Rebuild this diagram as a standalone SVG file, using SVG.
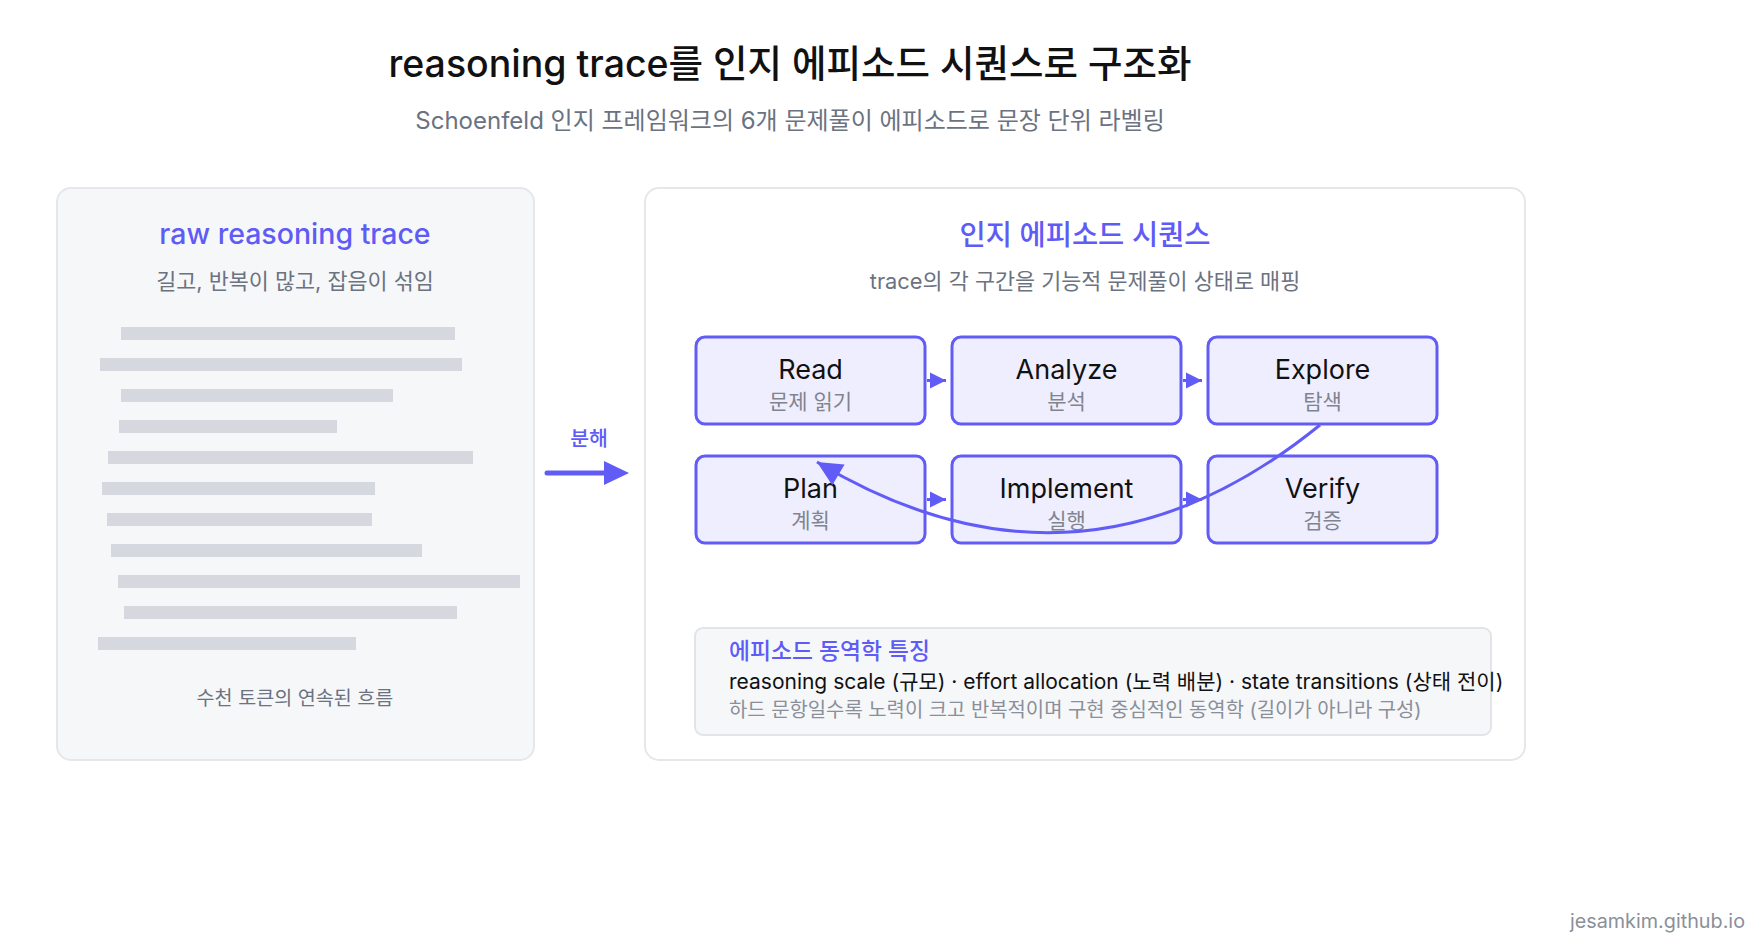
<svg xmlns="http://www.w3.org/2000/svg" width="1762" height="948" viewBox="0 0 1762 948">
<style>
text{font-family:Inter,"Noto Sans CJK KR",sans-serif}
.title{font-size:37.5px;font-weight:500;fill:#111}
.sub{font-size:24px;fill:#6b7280}
.ptitle{font-size:28.5px;font-weight:500;fill:#5f5bf7}
.psub{font-size:21.8px;fill:#6b7280}
.bar{fill:#d5d8de}
.node rect{fill:#efeeff;stroke:#625cf6;stroke-width:3}
.nl{font-size:27px;font-weight:400;fill:#111;text-anchor:middle}
.ns{font-size:21px;fill:#80848d;text-anchor:middle}
.conn{stroke:#625cf6;stroke-width:3;fill:none}
</style>
<defs>
<marker id="tri" markerUnits="userSpaceOnUse" markerWidth="20" markerHeight="20" viewBox="0 0 20 20" refX="18" refY="10" orient="auto">
<path d="M2,2 L18,10 L2,18 Z" fill="#625cf6"/>
</marker>
<marker id="big" markerUnits="userSpaceOnUse" markerWidth="28" markerHeight="28" viewBox="0 0 28 28" refX="26" refY="14" orient="auto">
<path d="M1,2 L26,14 L1,26 Z" fill="#625cf6"/>
</marker>
</defs>
<rect width="1762" height="948" fill="#ffffff"/>
<g id="header">
<text class="title" x="790" y="77" text-anchor="middle">reasoning trace를 인지 에피소드 시퀀스로 구조화</text>
<text class="sub" x="790" y="129" text-anchor="middle">Schoenfeld 인지 프레임워크의 6개 문제풀이 에피소드로 문장 단위 라벨링</text>
</g>
<g id="raw-panel">
<rect x="57" y="188" width="477" height="572" rx="14" fill="#f6f7f9" stroke="#e5e7eb" stroke-width="2"/>
<text class="ptitle" x="295" y="244" text-anchor="middle">raw reasoning trace</text>
<text class="psub" x="295" y="289" text-anchor="middle">길고, 반복이 많고, 잡음이 섞임</text>
<rect class="bar" x="121" y="327" width="334" height="13"/>
<rect class="bar" x="100" y="358" width="362" height="13"/>
<rect class="bar" x="121" y="389" width="272" height="13"/>
<rect class="bar" x="119" y="420" width="218" height="13"/>
<rect class="bar" x="108" y="451" width="365" height="13"/>
<rect class="bar" x="102" y="482" width="273" height="13"/>
<rect class="bar" x="107" y="513" width="265" height="13"/>
<rect class="bar" x="111" y="544" width="311" height="13"/>
<rect class="bar" x="118" y="575" width="402" height="13"/>
<rect class="bar" x="124" y="606" width="333" height="13"/>
<rect class="bar" x="98" y="637" width="258" height="13"/>
<text x="295" y="705" font-size="19.6" fill="#6b7280" text-anchor="middle">수천 토큰의 연속된 흐름</text>
</g>
<g id="decompose">
<text x="589" y="446" font-size="20.5" font-weight="500" fill="#5f5bf7" text-anchor="middle">분해</text>
<path d="M547,473 L606,473" stroke="#625cf6" stroke-width="5" stroke-linecap="round" fill="none"/>
<path d="M604,461 L629,473 L604,485 Z" fill="#625cf6"/>
</g>
<g id="episode-panel">
<rect x="645" y="188" width="880" height="572" rx="14" fill="#ffffff" stroke="#e5e7eb" stroke-width="2"/>
<text class="ptitle" x="1085" y="245" text-anchor="middle">인지 에피소드 시퀀스</text>
<text class="psub" x="1085" y="289" text-anchor="middle">trace의 각 구간을 기능적 문제풀이 상태로 매핑</text>
</g>
<g id="node-read" class="node"><rect x="696" y="337" width="229" height="87" rx="9"/><text class="nl" x="810.5" y="379">Read</text><text class="ns" x="810.5" y="409">문제 읽기</text></g>
<g id="node-analyze" class="node"><rect x="952" y="337" width="229" height="87" rx="9"/><text class="nl" x="1066.5" y="379">Analyze</text><text class="ns" x="1066.5" y="409">분석</text></g>
<g id="node-explore" class="node"><rect x="1208" y="337" width="229" height="87" rx="9"/><text class="nl" x="1322.5" y="379">Explore</text><text class="ns" x="1322.5" y="409">탐색</text></g>
<g id="node-plan" class="node"><rect x="696" y="456" width="229" height="87" rx="9"/><text class="nl" x="810.5" y="498">Plan</text><text class="ns" x="810.5" y="528">계획</text></g>
<g id="node-implement" class="node"><rect x="952" y="456" width="229" height="87" rx="9"/><text class="nl" x="1066.5" y="498">Implement</text><text class="ns" x="1066.5" y="528">실행</text></g>
<g id="node-verify" class="node"><rect x="1208" y="456" width="229" height="87" rx="9"/><text class="nl" x="1322.5" y="498">Verify</text><text class="ns" x="1322.5" y="528">검증</text></g>
<g id="connectors">
<path class="conn" d="M927,380.5 L946,380.5" marker-end="url(#tri)"/>
<path class="conn" d="M1183,380.5 L1202,380.5" marker-end="url(#tri)"/>
<path class="conn" d="M927,499.5 L946,499.5" marker-end="url(#tri)"/>
<path class="conn" d="M1183,499.5 L1202,499.5" marker-end="url(#tri)"/>
<path class="conn" d="M1320,425 Q1080,620 817,462" marker-end="url(#big)"/>
</g>
<g id="dynamics">
<rect x="695" y="628" width="796" height="107" rx="8" fill="#f6f7f9" stroke="#e2e4e8" stroke-width="2"/>
<text x="729" y="659" font-size="22.8" font-weight="500" fill="#5f5bf7">에피소드 동역학 특징</text>
<text x="729" y="689" font-size="21" fill="#111">reasoning scale (규모) · effort allocation (노력 배분) · state transitions (상태 전이)</text>
<text x="729" y="717" font-size="19.9" fill="#8a8f99">하드 문항일수록 노력이 크고 반복적이며 구현 중심적인 동역학 (길이가 아니라 구성)</text>
</g>
<text x="1745" y="928" font-size="19.8" fill="#8b8f98" text-anchor="end">jesamkim.github.io</text>
</svg>
